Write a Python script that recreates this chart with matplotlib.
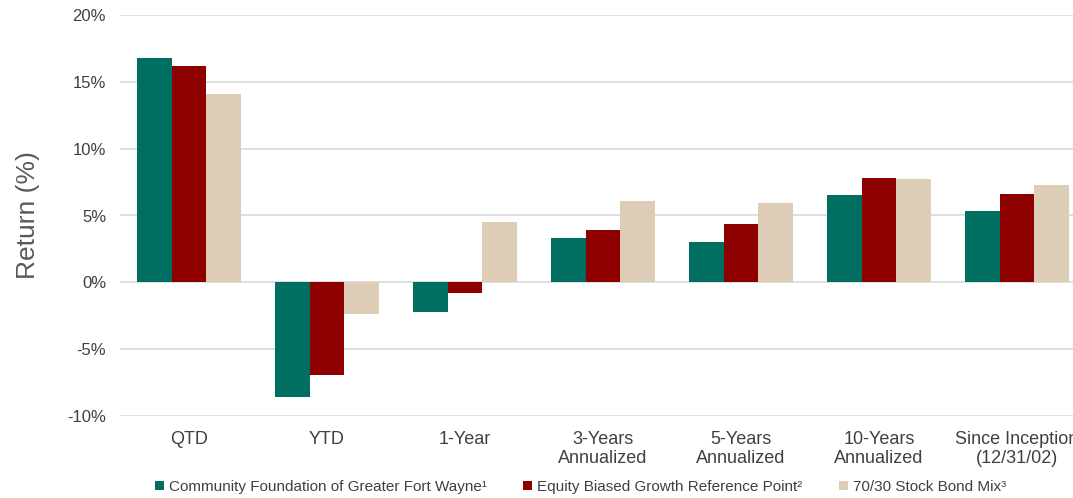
import matplotlib
matplotlib.use("Agg")
import matplotlib.pyplot as plt
import numpy as np
from matplotlib.patches import Patch

plt.rcParams['font.family'] = ['Liberation Sans', 'DejaVu Sans']

# ==============================
# Data
# ==============================
categories = ["QTD", "YTD", "1-Year", "3-Years\nAnnualized", "5-Years\nAnnualized",
              "10-Years\nAnnualized", "Since Inception\n(12/31/02)"]
cf_fort_wayne = [16.8, -8.6, -2.2, 3.3, 3.0, 6.5, 5.3]
equity_biased = [16.2, -6.9, -0.8, 3.9, 4.4, 7.8, 6.6]
stock_bond_7030 = [14.1, -2.4, 4.5, 6.1, 5.9, 7.7, 7.3]
series_names = ["Community Foundation of Greater Fort Wayne\u00b9",
                "Equity Biased Growth Reference Point\u00b2",
                "70/30 Stock Bond Mix\u00b3"]
yticks = [-10, -5, 0, 5, 10, 15, 20]

colors = ["#006F62", "#8E0000", "#DDCDB6"]
text_col = "#404040"

# ==============================
# Plot
# ==============================
W, H = 1073, 498
fig = plt.figure(figsize=(W / 100, H / 100), dpi=100)
# plot area runs a little past the right edge, so the last label is clipped like the original
ax = fig.add_axes([120 / W, 1 - 416 / H, 966 / W, 401 / H])

x = np.arange(len(categories))
w = 0.25
for i, (vals, c) in enumerate(zip([cf_fort_wayne, equity_biased, stock_bond_7030], colors)):
    ax.bar(x + (i - 1) * w, vals, width=w, color=c, zorder=3)

ax.set_xlim(-0.5, len(categories) - 0.5)
ax.set_ylim(-10, 20)
ax.set_yticks(yticks)
ax.set_yticklabels([f"{t}%" for t in yticks], fontsize=12, color=text_col)
ax.set_xticks(x)
ax.set_xticklabels(categories, fontsize=13, color=text_col, linespacing=1.1)
ax.tick_params(axis="both", length=0)
ax.tick_params(axis="y", pad=10)
ax.tick_params(axis="x", pad=11)

ax.grid(axis="y", color="#D9D9D9", linewidth=1.2, zorder=0)
for s in ax.spines.values():
    s.set_visible(False)

ax.set_ylabel("Return (%)", fontsize=19, color="#595959")
ax.yaxis.set_label_coords(-0.083, 0.5)

handles = [Patch(facecolor=c, edgecolor="none") for c in colors]
fig.legend(handles, series_names, loc="center left", bbox_to_anchor=(155 / W, 1 - 487 / H),
           ncol=3, frameon=False, fontsize=11, labelcolor=text_col,
           handlelength=0.6, handleheight=0.6, handletextpad=0.3,
           columnspacing=2.4, borderpad=0, borderaxespad=0)

fig.savefig("out.png", dpi=100)
